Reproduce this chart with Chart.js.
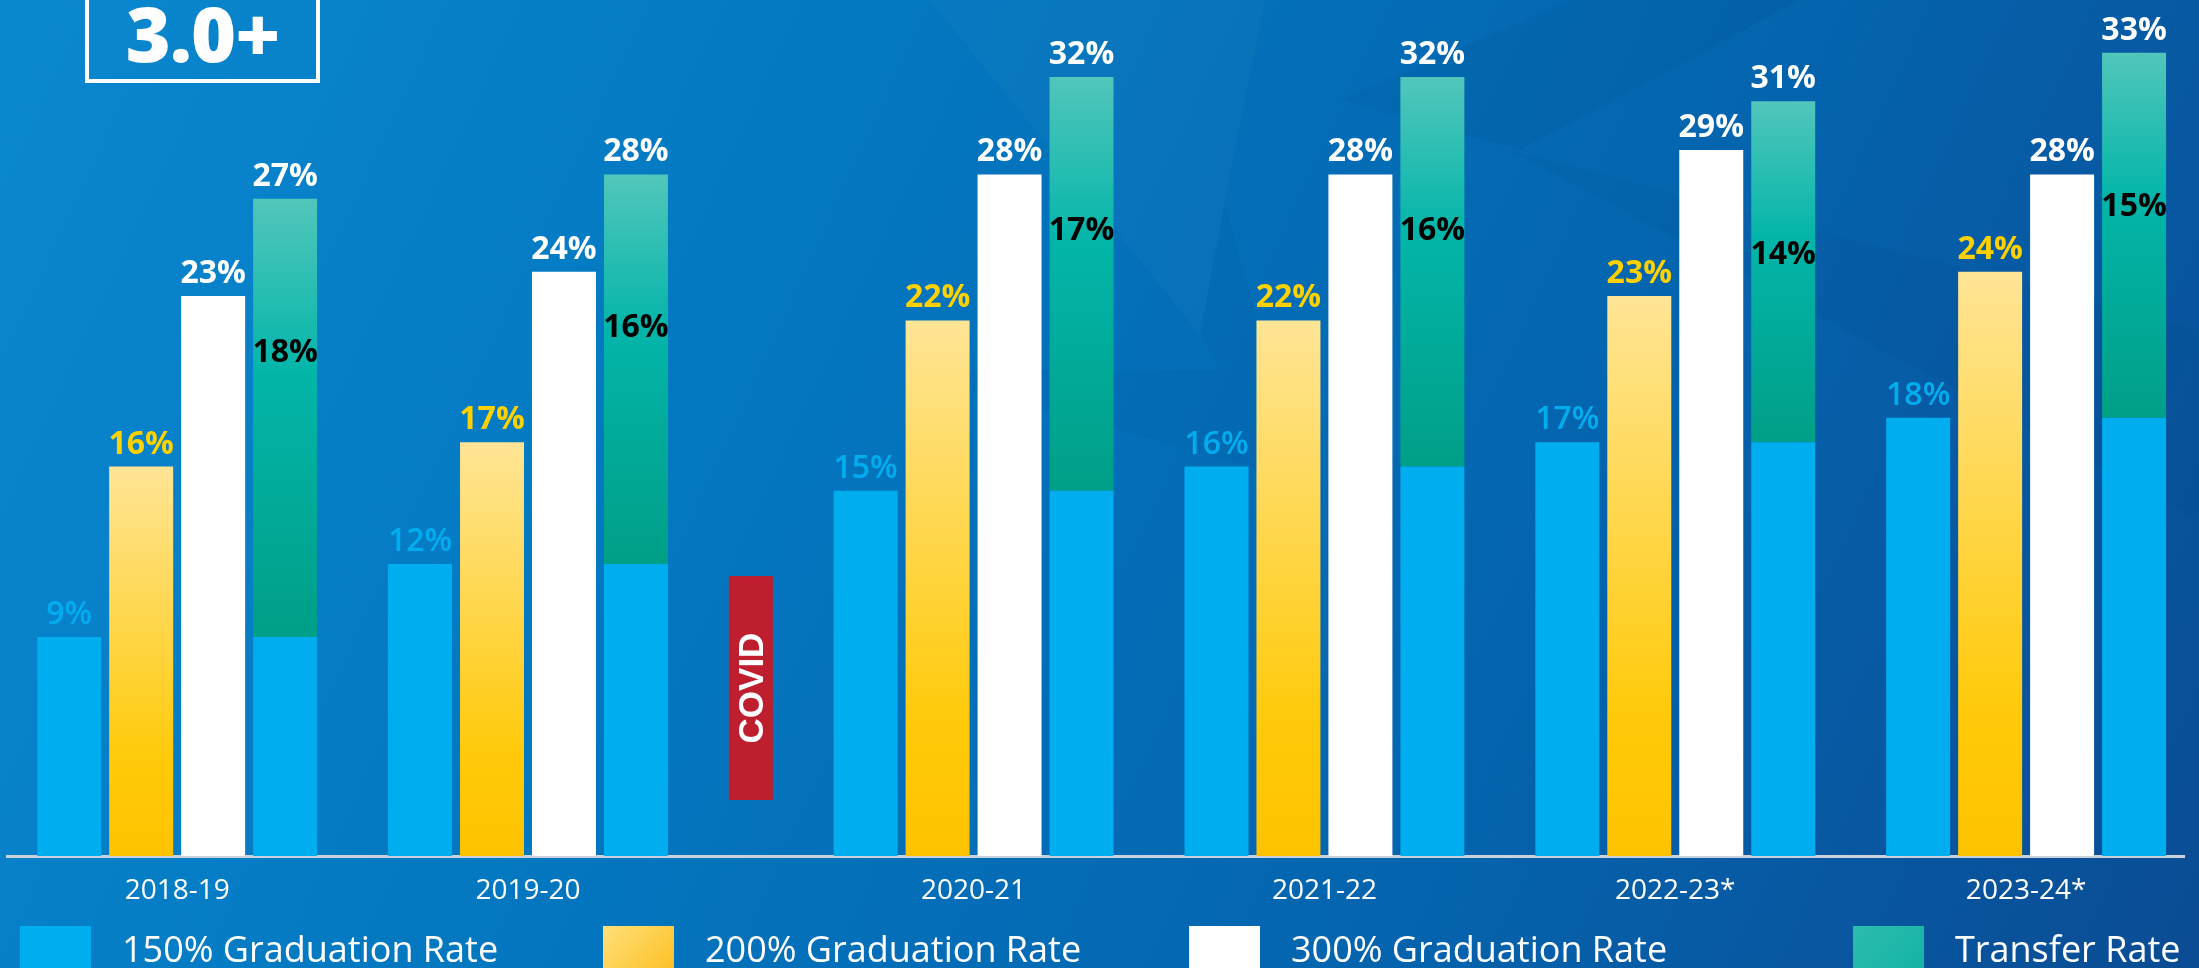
<!DOCTYPE html>
<html>
<head>
<meta charset="utf-8">
<script src="https://cdn.jsdelivr.net/npm/chart.js@4.4.1/dist/chart.umd.min.js"></script>
<style>
  html, body { margin: 0; padding: 0; width: 2199px; height: 968px; overflow: hidden; }
  body {
    position: relative;
    font-family: 'Open Sans', 'Noto Sans', sans-serif;
    background: linear-gradient(115deg, #0a88cf 0%, #0377c0 35%, #0563ad 70%, #0a4c94 100%);
  }
  #shapes { position: absolute; left: 0; top: 0; }
  #wrap { position: absolute; left: 0; top: 0; width: 2199px; height: 968px; }
  .badge {
    position: absolute; left: 85px; top: -40px; width: 235px; height: 123px;
    box-sizing: border-box; border: 4px solid #fff;
  }
  .badge span {
    position: absolute; left: 0; right: 0; top: 30px; text-align: center;
    color: #fff; font-size: 77px; font-weight: 800; line-height: 77px; letter-spacing: -1px;
  }
  .item { position: absolute; top: 926px; display: flex; align-items: flex-start; }
  .box { width: 71px; height: 70px; margin-right: 31px; }
  .txt { color: #fff; font-size: 36px; font-weight: 500; line-height: 36px; margin-top: 5px; white-space: nowrap; }
</style>
</head>
<body>
<!-- faint background facets -->
<svg id="shapes" width="2199" height="968">
  <polygon points="930,0 1265,0 1225,200 1200,335" fill="#ffffff" fill-opacity="0.025"/>
  <polygon points="900,370 1220,370 1200,335 1225,200 1300,480" fill="#000000" fill-opacity="0.02"/>
  <polygon points="1340,100 1570,0 1800,0 1520,150" fill="#000000" fill-opacity="0.03"/>
  <polygon points="1510,150 2199,330 2199,520" fill="#000000" fill-opacity="0.025"/>
</svg>
<div class="badge"><span>3.0+</span></div>
<div id="wrap"><canvas id="graph"></canvas></div>
<script>
var seasons = ['2018-19', '2019-20', '2020-21', '2021-22', '2022-23*', '2023-24*'];
var grad150 = [9, 12, 15, 16, 17, 18];
var grad200 = [16, 17, 22, 22, 23, 24];
var grad300 = [23, 24, 28, 28, 29, 28];
var transfer = [18, 16, 17, 16, 14, 15];

var covidGap = 0.27;          // extra room after 2019-20 for the COVID marker
var covidBand = [2.3, 11.5];  // vertical extent of the marker, in % units

// group positions on the x axis (the gap is added after the second year)
var positions = seasons.map(function (s, i) { return i + (i >= 2 ? covidGap : 0); });

function xy(values) {
    return values.map(function (v, i) { return {x: positions[i], y: v}; });
}

function goldFill(context) {
    var chart = context.chart;
    if (!chart.chartArea || context.type !== 'data') return '#ffd23f';
    var y = chart.scales.y;
    var top = y.getPixelForValue(grad200[context.dataIndex]);
    var g = chart.ctx.createLinearGradient(0, top, 0, y.getPixelForValue(0));
    g.addColorStop(0, '#ffe596');
    g.addColorStop(0.75, '#ffca0a');
    g.addColorStop(1, '#fec300');
    return g;
}

function tealFill(context) {
    var chart = context.chart;
    if (!chart.chartArea || context.type !== 'data') return '#00b2a7';
    var y = chart.scales.y;
    var i = context.dataIndex;
    var top = y.getPixelForValue(grad150[i] + transfer[i]);
    var g = chart.ctx.createLinearGradient(0, top, 0, y.getPixelForValue(grad150[i]));
    g.addColorStop(0, '#52c6bb');
    g.addColorStop(0.4, '#03b5a9');
    g.addColorStop(1, '#009f87');
    return g;
}

// percent labels above and inside the bars
var valueLabels = {
    id: 'valueLabels',
    afterDatasetsDraw: function (chart) {
        var c = chart.ctx;
        c.save();
        c.textAlign = 'center';
        c.textBaseline = 'alphabetic';
        function put(text, x, y, color, weight) {
            c.font = weight + ' 32px "Open Sans", sans-serif';
            c.fillStyle = color;
            c.fillText(text, x, y);
        }
        var m150 = chart.getDatasetMeta(0).data;
        var m200 = chart.getDatasetMeta(1).data;
        var m300 = chart.getDatasetMeta(2).data;
        var mTr = chart.getDatasetMeta(4).data;
        for (var i = 0; i < seasons.length; i++) {
            put(grad150[i] + '%', m150[i].x, m150[i].y - 13, '#00aeef', 600);
            put(grad200[i] + '%', m200[i].x, m200[i].y - 13, '#ffd100', 700);
            put(grad300[i] + '%', m300[i].x, m300[i].y - 13, '#ffffff', 700);
            put((grad150[i] + transfer[i]) + '%', mTr[i].x, mTr[i].y - 13, '#ffffff', 700);
            put(transfer[i] + '%', mTr[i].x, mTr[i].y + 163, '#000000', 700);
        }
        c.restore();
    }
};

// red COVID marker between 2019-20 and 2020-21
var covidMarker = {
    id: 'covidMarker',
    beforeDatasetsDraw: function (chart) {
        var c = chart.ctx, x = chart.scales.x, y = chart.scales.y;
        var cx = (x.getPixelForValue(positions[1]) + x.getPixelForValue(positions[2])) / 2;
        var top = y.getPixelForValue(covidBand[1]);
        var bot = y.getPixelForValue(covidBand[0]);
        c.save();
        c.fillStyle = '#be1e2d';
        c.fillRect(cx - 22, top, 44, bot - top);
        c.translate(cx, (top + bot) / 2);
        c.rotate(-Math.PI / 2);
        c.font = 'bold 35px "Liberation Sans", Arial, sans-serif';
        c.fillStyle = '#ffffff';
        c.textAlign = 'center';
        c.textBaseline = 'alphabetic';
        c.fillText('COVID', 0, 12.5);
        c.restore();
    }
};

var chartdata = {
    datasets: [
        { label: '150% Graduation Rate', data: xy(grad150), backgroundColor: '#00aeef', stack: 'a' },
        { label: '200% Graduation Rate', data: xy(grad200), backgroundColor: goldFill, stack: 'b' },
        { label: '300% Graduation Rate', data: xy(grad300), backgroundColor: '#ffffff', stack: 'c' },
        { label: 'base', data: xy(grad150), backgroundColor: '#00aeef', stack: 'd' },
        { label: 'Transfer Rate', data: xy(transfer), backgroundColor: tealFill, stack: 'd' }
    ]
};

var ctx = document.getElementById('graph');
var chart = new Chart(ctx, {
    type: 'bar',
    data: chartdata,
    plugins: [covidMarker, valueLabels],
    options: {
        responsive: true,
        maintainAspectRatio: false,
        animation: false,
        barPercentage: 0.889,
        categoryPercentage: 0.8205,
        borderWidth: 0,
        layout: { padding: { left: 7, right: 15, top: 4, bottom: 42 } },
        plugins: { legend: { display: false }, tooltip: { enabled: false } },
        scales: {
            x: {
                type: 'linear',
                offset: false,
                min: -0.485,
                max: 5.72,
                grid: { display: false, drawTicks: false, offset: false },
                border: { display: true, color: '#c9d2dc', width: 3 },
                afterBuildTicks: function (scale) {
                    scale.ticks = positions.map(function (v) { return {value: v}; });
                },
                afterFit: function (scale) { scale.height = 70; },
                ticks: {
                    padding: 18,
                    color: '#ffffff',
                    autoSkip: false,
                    maxRotation: 0,
                    font: { family: 'Open Sans', size: 28, weight: 500 },
                    callback: function (value, index) { return seasons[index]; }
                }
            },
            y: { display: false, stacked: true, min: 0, max: 35 }
        }
    }
});

// legend along the bottom
var legendColors = ['#00aeef', 'linear-gradient(135deg, #ffe07a, #fdb913)', '#ffffff', 'linear-gradient(135deg, #2cbcae, #0fb1a3)'];
var legendLeft = [20, 603, 1189, 1853];
var legendLabels = [0, 1, 2, 4].map(function (d) { return chartdata.datasets[d].label; });
legendLabels.forEach(function (label, i) {
    var item = document.createElement('div');
    item.className = 'item';
    item.style.left = legendLeft[i] + 'px';
    item.innerHTML = '<div class="box" style="background:' + legendColors[i] + '"></div><div class="txt">' + label + '</div>';
    document.body.appendChild(item);
});
</script>
</body>
</html>
